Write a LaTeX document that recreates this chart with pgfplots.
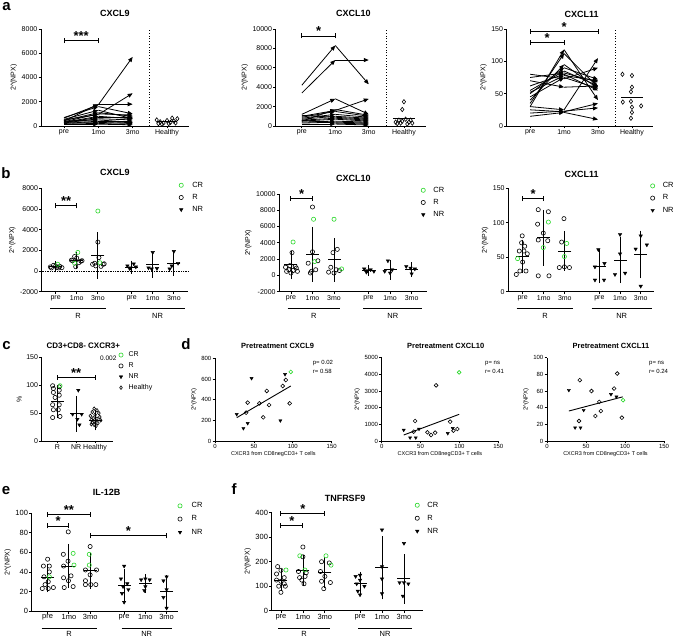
\documentclass[border=0pt]{standalone}
\usepackage{pgfplots}
\pgfplotsset{compat=1.18}
\usepackage{pgfplotstable}
\usepackage{fontspec}
\setmainfont{Liberation Sans}
\usetikzlibrary{arrows.meta,calc}
\definecolor{crg}{RGB}{40,215,40}

\pgfplotsset{
 gp/.style={scale only axis, anchor=south west, axis lines*=left, axis line style={line width=0.9pt,-},
  tick style={line width=0.8pt,black}, major tick length=2.5pt, tick align=outside,
  ticklabel style={font=\fontsize{7}{8}\selectfont, inner sep=1pt},
  /pgf/number format/assume math mode=true, /pgf/number format/1000 sep={},
  scaled ticks=false, clip=false, enlargelimits=false,
  ylabel={2\textasciicircum(NPX)},
  label style={font=\fontsize{7}{8}\selectfont},
  legend style={draw=none, fill=none, font=\fontsize{7.5}{8}\selectfont, inner sep=0pt, row sep=1.5pt, column sep=6pt, anchor=north west},
  legend cell align=left,
 },
 Rm/.style={only marks, mark=o, mark size=2.1pt, line width=0.6pt, black, forget plot},
 CRm/.style={only marks, mark=o, mark size=2.1pt, line width=0.6pt, crg, forget plot},
 NRm/.style={only marks, mark=triangle*, mark size=2pt, mark options={rotate=180}, black, forget plot},
 Hm/.style={only marks, mark=diamond, mark size=2.2pt, line width=0.6pt, black, forget plot},
 msd/.style={only marks, black, mark=-, mark size=6.5pt, mark options={line width=0.9pt}, forget plot, error bars/.cd, y dir=both, y explicit, error mark=-, error mark options={black, mark size=4.5pt, line width=0.8pt}, error bar style={black, line width=0.8pt}},
 arr/.style={black, line width=0.8pt, -{Triangle[length=5pt,width=4pt]}},
}

\newcommand{\sig}[4]{%
 \draw[line width=0.9pt] (axis cs:#1,#3) -- (axis cs:#2,#3);
 \draw[line width=0.9pt] ([yshift=-2.5pt]axis cs:#1,#3) -- ([yshift=2.5pt]axis cs:#1,#3);
 \draw[line width=0.9pt] ([yshift=-2.5pt]axis cs:#2,#3) -- ([yshift=2.5pt]axis cs:#2,#3);
 \node[font=\bfseries\fontsize{13}{13}\selectfont, anchor=base, inner sep=0pt] at ($(axis cs:#1,#3)!0.5!(axis cs:#2,#3)$) {#4};
}
\newcommand{\threeleg}{%
 \addlegendimage{only marks, mark=o, mark size=2.1pt, line width=0.6pt, crg}\addlegendentry{CR}
 \addlegendimage{only marks, mark=o, mark size=2.1pt, line width=0.6pt, black}\addlegendentry{R}
 \addlegendimage{only marks, mark=triangle*, mark size=2pt, mark options={rotate=180}, black}\addlegendentry{NR}}

\pgfplotstableread{
pre mo1 mo3
650 1750 5700
500 950 2700
400 1800 1800
700 1600 1000
450 1100 800
350 1000 900
300 800 600
300 700 700
250 600 500
400 500 300
200 400 400
350 300 200
250 200 300
150 150 100
550 1300 600
}\aNine
\pgfplotstableread{
pre mo1 mo3
4200 8300 4300
3400 6800 6800
1200 2800 1200
1000 1600 2800
900 1500 1000
800 1200 900
700 1000 800
600 800 600
500 700 500
400 500 400
300 400 300
600 300 200
200 200 100
1100 900 700
500 1700 1100
}\aTen
\pgfplotstableread{
pre mo1 mo3
30 118 40
35 112 60
40 95 58
50 90 72
55 85 62
62 80 55
52 78 70
45 75 58
75 82 68
80 73 90
70 60 62
30 25 105
25 22 35
20 23 28
15 21 10
}\aEleven

\begin{document}
\begin{tikzpicture}
\path[use as bounding box] (0,0) rectangle (677pt,637pt);

% ================= a1 CXCL9
\begin{axis}[gp, at={(41pt,511pt)}, width=148pt, height=97pt, xmin=-0.67, xmax=3.64, ymin=0, ymax=8000,
  ytick={0,2000,4000,6000,8000}, xtick={0,1,2,3}, xticklabels={pre,1mo,3mo,Healthy}]
\addplot[arr, quiver={u=1, v=\thisrow{mo1}-\thisrow{pre}}] table[x expr=0, y=pre] {\aNine};
\addplot[arr, quiver={u=1, v=\thisrow{mo3}-\thisrow{mo1}}] table[x expr=1, y=mo1] {\aNine};
\addplot[Hm] table {
x y
2.7 500
2.8 350
2.9 250
3.0 450
3.1 300
3.2 400
3.3 600
2.85 150
3.05 200
3.25 250
2.75 200
3.15 650
};
\addplot[black, line width=0.9pt] coordinates {(2.7,350) (3.3,350)};
\draw[dotted, line width=0.8pt] (axis cs:2.48,0) -- (axis cs:2.48,8000);
\sig{0}{1}{7040}{***}
\end{axis}

% ================= a2 CXCL10
\begin{axis}[gp, at={(275.7pt,511pt)}, width=150pt, height=97pt, xmin=-0.78, xmax=3.70, ymin=0, ymax=10000,
  ytick={0,2000,4000,6000,8000,10000}, xtick={0,1,2,3.05}, xticklabels={pre,1mo,3mo,Healthy}]
\addplot[arr, quiver={u=1, v=\thisrow{mo1}-\thisrow{pre}}] table[x expr=0, y=pre] {\aTen};
\addplot[arr, quiver={u=1, v=\thisrow{mo3}-\thisrow{mo1}}] table[x expr=1, y=mo1] {\aTen};
\addplot[Hm] table {
x y
3.05 2500
3.0 1700
2.8 400
2.9 600
3.0 500
3.1 700
3.2 400
3.3 300
2.85 250
3.15 200
2.95 300
3.25 600
};
\addplot[black, line width=0.9pt] coordinates {(2.72,750) (3.38,750)};
\draw[dotted, line width=0.8pt] (axis cs:2.52,0) -- (axis cs:2.52,10000);
\sig{0}{1}{9280}{*}
\end{axis}

% ================= a3 CXCL11
\begin{axis}[gp, at={(506.7pt,511pt)}, width=146.3pt, height=97pt, xmin=-0.69, xmax=3.62, ymin=0, ymax=150,
  ytick={0,50,100,150}, xtick={0,1,2,3}, xticklabels={pre,1mo,3mo,Healthy}]
\addplot[arr, quiver={u=1, v=\thisrow{mo1}-\thisrow{pre}}] table[x expr=0, y=pre] {\aEleven};
\addplot[arr, quiver={u=1, v=\thisrow{mo3}-\thisrow{mo1}}] table[x expr=1, y=mo1] {\aEleven};
\addplot[Hm] table {
x y
2.72 80
3.0 78
3.0 60
2.97 53
2.73 37
2.97 38
3.27 31
3.0 29
3.0 21
2.97 12
};
\addplot[black, line width=0.9pt] coordinates {(2.68,44) (3.32,44)};
\draw[dotted, line width=0.8pt] (axis cs:2.52,0) -- (axis cs:2.52,150);
\sig{0}{1}{129}{*}
\sig{0}{2}{146}{*}
\end{axis}

% ================= b1 CXCL9
\begin{axis}[gp, at={(41.7pt,345.3pt)}, width=146.3pt, height=103.4pt, xmin=-0.66, xmax=6.27, ymin=-2000, ymax=8000,
  ytick={-2000,0,2000,4000,6000,8000}, xtick={0,1,2,3.6,4.6,5.6}, xticklabels={pre,1mo,3mo,pre,1mo,3mo},
  legend style={at={(0.938,1.083)}, column sep=7pt}]
\threeleg
\draw[densely dotted, line width=0.7pt] (axis cs:-0.66,0) -- (axis cs:6.27,0);
\addplot[msd] table[x=x, y=m, y error=sd] {
x m sd
0 430 120
1 1000 400
2 1500 1800
3.6 380 200
4.6 600 800
5.6 700 700
};
\addplot[Rm] table {
x y
-0.25 400
-0.1 550
0.05 350
0.2 450
0.3 330
-0.2 300
0.15 300
0.0 480
0.8 1000
1.2 950
1.0 1250
0.9 1400
1.1 800
0.95 420
0.75 1050
1.25 1000
2.0 2800
2.05 1300
1.75 650
2.25 650
1.9 500
2.15 450
1.85 750
2.3 700
};
\addplot[CRm] table {
x y
0.1 650
1.05 1800
0.9 750
2.0 5800
2.1 800
};
\addplot[NRm] table {
x y
3.4 500
3.55 300
3.7 700
3.8 400
3.5 250
4.6 1800
4.4 300
4.8 250
4.55 200
5.6 1900
5.4 200
5.8 750
5.5 500
};
\sig{0}{1}{6300}{**}
\end{axis}

% ================= b2 CXCL10
\begin{axis}[gp, at={(279.3pt,345.3pt)}, width=147.4pt, height=97.7pt, xmin=-0.54, xmax=6.3, ymin=-2000, ymax=10000,
  ytick={-2000,0,2000,4000,6000,8000,10000}, xtick={0,1,2,3.6,4.6,5.6}, xticklabels={pre,1mo,3mo,pre,1mo,3mo},
  legend style={at={(0.961,1.095)}}]
\threeleg
\addplot[msd] table[x=x, y=m, y error=sd] {
x m sd
0 1300 1200
1 2600 2800
2 1900 2100
3.6 600 150
4.6 700 650
5.6 700 350
};
\addplot[Rm] table {
x y
0.05 2800
-0.25 1000
-0.1 700
0.1 600
0.25 900
0.3 500
-0.2 500
0.0 300
-0.05 1200
0.2 1100
1.0 8400
1.0 2900
0.8 1500
1.25 1800
0.9 300
1.15 700
0.95 500
2.15 3200
1.95 2800
1.85 1000
2.1 700
1.75 400
2.0 300
2.25 600
};
\addplot[CRm] table {
x y
0.1 4100
1.05 6900
1.1 1700
2.0 6900
2.35 800
};
\addplot[NRm] table {
x y
3.4 800
3.55 600
3.7 700
3.85 500
3.5 400
4.5 1800
4.35 500
4.7 700
4.6 300
5.35 1100
5.55 900
5.75 800
5.6 200
};
\sig{0}{1}{9470}{*}
\end{axis}

% ================= b3 CXCL11
\begin{axis}[gp, at={(508.3pt,345.3pt)}, width=145.7pt, height=103.4pt, xmin=-0.68, xmax=6.23, ymin=0, ymax=150,
  ytick={0,50,100,150}, xtick={0,1,2,3.64,4.62,5.6}, xticklabels={pre,1mo,3mo,pre,1mo,3mo},
  legend style={at={(0.975,1.077)}}]
\threeleg
\addplot[msd] table[x=x, y=m, y error=sd] {
x m sd
0 51 18
1 78 34
2 59 22
3.64 37 18
4.62 46 27
5.6 54 28
};
\addplot[Rm] table {
x y
-0.02 81
-0.05 71
0.1 66
-0.16 59
0.06 59
0.22 55
0.0 43
-0.13 30
0.16 30
-0.3 25
0.74 119
1.22 116
0.71 98
0.98 85
0.74 75
1.19 74
0.74 23
1.25 23
1.96 106
1.85 72
1.74 35
2.22 35
1.98 36
};
\addplot[CRm] table {
x y
-0.24 48
1.22 101
0.98 64
2.09 70
1.98 51
};
\addplot[NRm] table {
x y
3.59 61
3.88 41
3.43 36
3.43 17
3.86 17
4.62 83
4.62 55
4.38 25
4.86 27
5.6 81
5.89 68
5.36 62
5.6 8
};
\sig{0}{1}{135}{*}
\end{axis}

% ================= c
\begin{axis}[gp, at={(41.7pt,196pt)}, width=71.3pt, height=83.7pt, xmin=-0.83, xmax=2.95, ymin=0, ymax=150,
  ytick={0,50,100,150}, xtick={0,1,2}, xticklabels={R,NR,Healthy}, ylabel={\%},
  legend style={at={(1.08,1.091)}, font=\fontsize{7}{8}\selectfont, row sep=0.5pt, column sep=3.5pt}]
\threeleg
\addlegendimage{only marks, mark=diamond, mark size=1.8pt, line width=0.6pt, black}\addlegendentry{Healthy}
\addplot[msd] table[x=x, y=m, y error=sd] {
x m sd
0 71 21
1 49 24
2 37 10
};
\addplot[Rm] table {
x y
-0.25 99
0.1 97
-0.21 94
0.1 91
-0.21 87
0.1 82
-0.12 78
-0.25 65
0.1 65
-0.21 56
0.05 56
-0.25 42
0.14 44
};
\addplot[CRm] table {
x y
0.14 99
};
\addplot[NRm] table {
x y
1.11 91
0.81 48
1.29 48
1.06 39
1.17 29
};
\addplot[Hm, mark size=1.8pt] table {
x y
1.95 58
2.1 55
1.85 52
2.2 50
2.0 47
1.75 45
2.25 43
1.9 41
2.1 40
1.8 38
2.3 37
2.0 35
1.85 33
2.15 32
1.95 29
2.05 27
1.8 30
};
\sig{0}{2}{114}{**}
\end{axis}

% ================= d1
\begin{axis}[gp, at={(215pt,196pt)}, width=116.7pt, height=82.7pt, xmin=0, xmax=150, ymin=0, ymax=800,
  ytick={0,200,400,600,800}, xtick={0,50,100,150},
  ticklabel style={font=\fontsize{6}{7}\selectfont},
  ylabel style={font=\fontsize{6}{7}\selectfont},
  xlabel={CXCR3 from CD8negCD3+ T cells}, xlabel style={font=\fontsize{5.5}{6}\selectfont, yshift=2pt}]
\addplot[black, line width=0.9pt] coordinates {(28,226) (97.4,532)};
\addplot[Rm, mark size=1.9pt] table {
x y
40 274
42 371
57 364
62 229
66.5 484
69.5 348
87 532
91 590
96 364
};
\addplot[CRm, mark size=1.9pt] table {
x y
97.4 668
};
\addplot[NRm, mark size=1.8pt] table {
x y
27.9 258
36.5 122
42 171
47 606
84 197
90 645
};
\end{axis}

% ================= d2
\begin{axis}[gp, at={(381.7pt,196pt)}, width=116.6pt, height=83.3pt, xmin=0, xmax=150, ymin=0, ymax=5000,
  ytick={0,1000,2000,3000,4000,5000}, xtick={0,50,100,150},
  ticklabel style={font=\fontsize{6}{7}\selectfont},
  ylabel style={font=\fontsize{6}{7}\selectfont},
  xlabel={CXCR3 from CD8negCD3+ T cells}, xlabel style={font=\fontsize{5.5}{6}\selectfont, yshift=2pt}]
\addplot[black, line width=0.9pt] coordinates {(28.3,360) (99.6,1600)};
\addplot[Rm, mark size=1.9pt] table {
x y
41.2 560
43 1200
58.8 520
63.5 360
68.7 500
70 3340
88 1160
92.3 620
97.4 720
};
\addplot[CRm, mark size=1.9pt] table {
x y
99.6 4120
};
\addplot[NRm, mark size=1.8pt] table {
x y
28.3 660
36.5 200
43.8 200
48 720
85 460
91.4 760
};
\end{axis}

% ================= d3
\begin{axis}[gp, at={(547pt,196pt)}, width=117pt, height=83.3pt, xmin=0, xmax=150, ymin=0, ymax=100,
  ytick={0,20,40,60,80,100}, xtick={0,50,100,150},
  ticklabel style={font=\fontsize{6}{7}\selectfont},
  ylabel style={font=\fontsize{6}{7}\selectfont},
  xlabel={CXCR3 from CD8negCD3+ T cells}, xlabel style={font=\fontsize{5.5}{6}\selectfont, yshift=2pt}]
\addplot[black, line width=0.9pt] coordinates {(28,36) (97,53)};
\addplot[Rm, mark size=1.9pt] table {
x y
42 73
41 24
57 60
62 30
67 47
69 36
86 63
90 81
96 28
};
\addplot[CRm, mark size=1.9pt] table {
x y
97.5 49
};
\addplot[NRm, mark size=1.8pt] table {
x y
28 61
47 37
36 16
43 16
82 56
89 53
};
\end{axis}

% ================= e IL-12B
\begin{axis}[gp, at={(31.7pt,26pt)}, width=146.6pt, height=97.7pt, xmin=-0.75, xmax=6.15, ymin=0, ymax=100,
  ytick={0,20,40,60,80,100}, xtick={0,1,2,3.6,4.6,5.6}, xticklabels={pre,1mo,3mo,pre,1mo,3mo},
  ticklabel style={font=\fontsize{7.5}{8}\selectfont},
  legend style={at={(0.996,1.133)}, column sep=7.5pt, row sep=2.5pt}]
\threeleg
\addplot[msd] table[x=x, y=m, y error=sd] {
x m sd
0 34 10
1 46 18
2 41 14
3.6 26 12
4.6 28 5
5.6 20 12
};
\addplot[Rm] table {
x y
0.0 53
0.08 46
-0.2 46
0.08 40
-0.17 35
0.03 30
-0.25 23
0.03 23
0.27 24
-0.12 27
0.97 81
0.74 58
0.96 51
0.75 46
0.75 34
1.1 36
0.78 24
1.2 25
0.98 31
2.0 66
1.78 42
2.3 42
2.0 37
1.78 31
1.78 27
2.27 27
2.03 27
};
\addplot[CRm] table {
x y
0.08 35
1.2 59
1.24 47
1.96 58
1.96 47
};
\addplot[NRm] table {
x y
3.6 46
3.45 33
3.75 28
3.55 25
3.8 22
3.5 18
3.6 9
4.6 33
4.4 32
4.8 32
4.6 25
4.55 21
5.6 35
5.45 31
5.6 22
5.45 14
5.6 3
};
\sig{0}{1}{87}{*}
\sig{0}{2}{99}{**}
\sig{2}{5.6}{77}{*}
\end{axis}

% ================= f TNFRSF9
\begin{axis}[gp, at={(271.7pt,26.3pt)}, width=151.6pt, height=98pt, xmin=-0.42, xmax=6.48, ymin=0, ymax=400,
  ytick={0,100,200,300,400}, xtick={0,1,2,3.6,4.6,5.6}, xticklabels={pre,1mo,3mo,pre,1mo,3mo},
  ticklabel style={font=\fontsize{7.5}{8}\selectfont},
  legend style={at={(0.945,1.133)}, row sep=2.3pt}]
\threeleg
\addplot[msd] table[x=x, y=m, y error=sd] {
x m sd
0 125 25
1 165 45
2 155 45
3.6 110 30
4.6 175 110
5.6 130 83
};
\addplot[Rm] table {
x y
-0.15 180
0.0 165
-0.2 150
0.15 135
-0.2 125
0.0 120
0.15 110
-0.1 100
0.2 100
0.0 75
1.0 260
1.0 220
0.8 160
1.15 155
1.1 140
0.85 135
0.95 125
1.05 110
1.85 200
2.2 195
1.8 160
2.0 140
1.85 120
2.25 115
1.95 90
};
\addplot[CRm] table {
x y
0.23 166
0.86 224
1.09 166
2.05 224
2.28 186
};
\addplot[NRm] table {
x y
3.6 145
3.4 140
3.6 125
3.45 110
3.8 100
3.5 80
3.6 65
4.6 330
4.6 180
4.6 130
4.6 70
5.6 275
5.4 115
5.6 115
5.8 110
5.55 60
};
\sig{0}{1}{347}{*}
\sig{0}{2}{397}{*}
\end{axis}

% ================= texts
\begin{scope}[every node/.style={inner sep=0pt}]
\node[anchor=base, font=\bfseries\fontsize{15}{15}\selectfont] at (6.5pt,626pt) {a};
\node[anchor=base, font=\bfseries\fontsize{15}{15}\selectfont] at (6pt,458.7pt) {b};
\node[anchor=base, font=\bfseries\fontsize{15}{15}\selectfont] at (6.5pt,287pt) {c};
\node[anchor=base, font=\bfseries\fontsize{15}{15}\selectfont] at (186pt,287.7pt) {d};
\node[anchor=base, font=\bfseries\fontsize{15}{15}\selectfont] at (6pt,142pt) {e};
\node[anchor=base, font=\bfseries\fontsize{15}{15}\selectfont] at (234pt,142pt) {f};

\node[anchor=base, font=\bfseries\fontsize{9}{9}\selectfont] at (115pt,620.3pt) {CXCL9};
\node[anchor=base, font=\bfseries\fontsize{9}{9}\selectfont] at (353.3pt,620.3pt) {CXCL10};
\node[anchor=base, font=\bfseries\fontsize{9}{9}\selectfont] at (581.7pt,619.7pt) {CXCL11};
\node[anchor=base, font=\bfseries\fontsize{9}{9}\selectfont] at (115pt,461pt) {CXCL9};
\node[anchor=base, font=\bfseries\fontsize{9}{9}\selectfont] at (353.3pt,455.3pt) {CXCL10};
\node[anchor=base, font=\bfseries\fontsize{9}{9}\selectfont] at (581.7pt,459.7pt) {CXCL11};
\node[anchor=base, font=\bfseries\fontsize{8}{8}\selectfont] at (83.3pt,288.7pt) {CD3+CD8- CXCR3+};
\node[anchor=base, font=\bfseries\fontsize{7.5}{8}\selectfont] at (277.7pt,288.7pt) {Pretreatment CXCL9};
\node[anchor=base, font=\bfseries\fontsize{7.5}{8}\selectfont] at (445.7pt,288.7pt) {Pretreatment CXCL10};
\node[anchor=base, font=\bfseries\fontsize{7.5}{8}\selectfont] at (611pt,288.7pt) {Pretreatment CXCL11};
\node[anchor=base, font=\bfseries\fontsize{9}{9}\selectfont] at (106.7pt,141.3pt) {IL-12B};
\node[anchor=base, font=\bfseries\fontsize{9}{9}\selectfont] at (345pt,135.3pt) {TNFRSF9};

\node[anchor=base west, font=\fontsize{6.5}{7}\selectfont] at (100pt,276.3pt) {0.002};
\node[anchor=base west, font=\fontsize{6}{7}\selectfont] at (312.7pt,272pt) {p= 0.02};
\node[anchor=base west, font=\fontsize{6}{7}\selectfont] at (312.7pt,263.7pt) {r= 0.58};
\node[anchor=base west, font=\fontsize{6}{7}\selectfont] at (485pt,272pt) {p= ns};
\node[anchor=base west, font=\fontsize{6}{7}\selectfont] at (485pt,263.7pt) {r= 0.41};
\node[anchor=base west, font=\fontsize{6}{7}\selectfont] at (649pt,272pt) {p= ns};
\node[anchor=base west, font=\fontsize{6}{7}\selectfont] at (649pt,263.7pt) {r= 0.24};

% group underlines
\draw[line width=0.9pt] (50pt,328.7pt) -- (106pt,328.7pt);
\draw[line width=0.9pt] (130pt,328.7pt) -- (185pt,328.7pt);
\draw[line width=0.9pt] (287.7pt,328.7pt) -- (340pt,328.7pt);
\draw[line width=0.9pt] (363.3pt,328.7pt) -- (422.3pt,328.7pt);
\draw[line width=0.9pt] (516.7pt,328.7pt) -- (573.3pt,328.7pt);
\draw[line width=0.9pt] (591.7pt,328.7pt) -- (651.7pt,328.7pt);
\draw[line width=0.9pt] (41.7pt,8.7pt) -- (96.7pt,8.7pt);
\draw[line width=0.9pt] (121.7pt,8.7pt) -- (171.7pt,8.7pt);
\draw[line width=0.9pt] (278.3pt,8.7pt) -- (330pt,8.7pt);
\draw[line width=0.9pt] (358.3pt,8.7pt) -- (411.7pt,8.7pt);
\foreach \xa/\xb in {78/157.5, 313.8/392.8, 545/621.7} {
  \node[anchor=base, font=\fontsize{7.5}{8}\selectfont] at (\xa pt,318pt) {R};
  \node[anchor=base, font=\fontsize{7.5}{8}\selectfont] at (\xb pt,318pt) {NR};
}
\node[anchor=base, font=\fontsize{7.5}{8}\selectfont] at (69.2pt,0.8pt) {R};
\node[anchor=base, font=\fontsize{7.5}{8}\selectfont] at (146.7pt,0.8pt) {NR};
\node[anchor=base, font=\fontsize{7.5}{8}\selectfont] at (304.2pt,0.8pt) {R};
\node[anchor=base, font=\fontsize{7.5}{8}\selectfont] at (385pt,0.8pt) {NR};
\end{scope}
\end{tikzpicture}
\end{document}
